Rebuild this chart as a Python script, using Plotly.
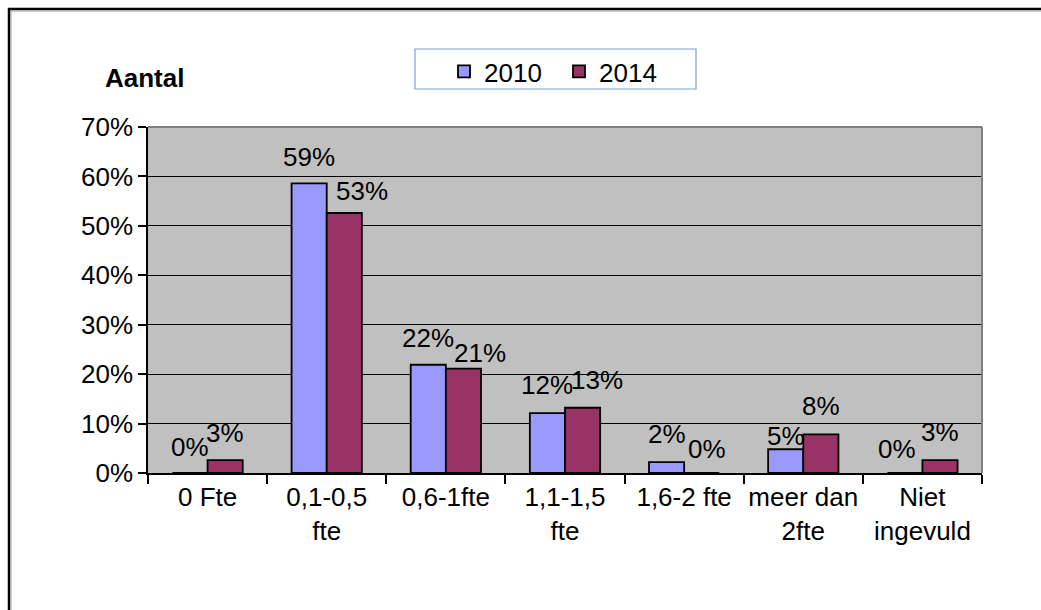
import plotly.graph_objects as go

# ---- data ----
categories = ["0 Fte", "0,1-0,5<br>fte", "0,6-1fte", "1,1-1,5<br>fte",
              "1,6-2 fte", "meer dan<br>2fte", "Niet<br>ingevuld"]
v2010 = [0.0, 0.586, 0.219, 0.121, 0.022, 0.048, 0.0]
v2014 = [0.026, 0.526, 0.211, 0.132, 0.0, 0.078, 0.026]
series_names = ["2010", "2014"]
y_ticks = [0, 0.1, 0.2, 0.3, 0.4, 0.5, 0.6, 0.7]

# ---- style ----
W_TOTAL, H_TOTAL = 1041, 610
L, R, T, B = 148, 59, 127, 137
PW = W_TOTAL - L - R
PH = H_TOTAL - T - B
FONT = "Liberation Sans, Arial, sans-serif"
FS = 26
C2010 = "#9999ff"
C2014 = "#993366"
BARGAP = 0.41
# small label nudges (px) mimicking the original label placement
dx2010 = [0, 0, 0, 0, 0, 0, -8]
dx2014 = [0, 18, 17, 14, 5, 0, 0]
gap2010 = [16, 16, 17, 18, 18, 3, 14]
gap2014 = [17, 12, 6, 18, 14, 18, 18]


def px_x(px):
    return (px - L) / PW


def px_y(py):
    return (H_TOTAL - B - py) / PH


fig = go.Figure()
for name, vals, col in [(series_names[0], v2010, C2010), (series_names[1], v2014, C2014)]:
    fig.add_trace(go.Bar(
        x=categories, y=vals, name=name,
        marker=dict(color=col, line=dict(color="black", width=1.8)),
    ))

half = (1 - BARGAP) / 4
annotations = []
for i in range(len(categories)):
    for vals, sign, dx, gp in [(v2010, -1, dx2010, gap2010), (v2014, 1, dx2014, gap2014)]:
        annotations.append(dict(
            x=i + sign * half, y=vals[i], xref="x", yref="y",
            text=f"{round(vals[i] * 100)}%", showarrow=False,
            xanchor="center", yanchor="bottom",
            xshift=dx[i], yshift=gp[i] - 7,
            font=dict(family=FONT, size=FS, color="black"),
        ))

annotations.append(dict(
    x=px_x(103), y=px_y(95), xref="paper", yref="paper",
    text="<b>Aantal</b>", showarrow=False, xanchor="left", yanchor="bottom",
    font=dict(family=FONT, size=FS, color="black"),
))

shapes = [
    # outer frame (runs off the right and bottom edges)
    dict(type="rect", xref="paper", yref="paper",
         x0=px_x(9), x1=px_x(1060), y0=px_y(630), y1=px_y(9),
         line=dict(color="black", width=2.5)),
    dict(type="rect", xref="paper", yref="paper",
         x0=px_x(11), x1=px_x(1060), y0=px_y(630), y1=px_y(11),
         line=dict(color="#a0a0a0", width=1)),
    # plot area border top/right
    dict(type="line", xref="paper", yref="paper", x0=0, x1=1, y0=1, y1=1,
         line=dict(color="#808080", width=2)),
    dict(type="line", xref="paper", yref="paper", x0=1, x1=1, y0=0, y1=1,
         line=dict(color="#808080", width=2)),
    # legend box
    dict(type="rect", xref="paper", yref="paper",
         x0=px_x(415), x1=px_x(696), y0=px_y(89), y1=px_y(49),
         line=dict(color="#7f9fd6", width=1.2), fillcolor="white"),
]

fig.update_layout(
    width=W_TOTAL, height=H_TOTAL,
    margin=dict(l=L, r=R, t=T, b=B, autoexpand=False),
    paper_bgcolor="white", plot_bgcolor="#c0c0c0",
    barmode="group", bargap=BARGAP, bargroupgap=0,
    font=dict(family=FONT, size=FS, color="black"),
    showlegend=True,
    legend=dict(orientation="h", x=px_x(444), y=px_y(48), xanchor="left", yanchor="top",
                bgcolor="rgba(0,0,0,0)", borderwidth=0,
                font=dict(family=FONT, size=FS, color="black"),
                entrywidth=70, itemwidth=30),
    annotations=annotations,
    shapes=shapes,
    xaxis=dict(
        showgrid=False, showline=True, linecolor="black", linewidth=1.5,
        ticks="outside", tickson="boundaries", ticklen=9, tickcolor="black", tickwidth=1.5,
        tickangle=0,
        tickfont=dict(family=FONT, size=FS, color="black"), fixedrange=True,
    ),
    yaxis=dict(
        range=[0, 0.7], tickvals=y_ticks, tickformat=".0%",
        showgrid=True, gridcolor="black", gridwidth=1.2,
        showline=True, linecolor="black", linewidth=1.5, zeroline=False,
        ticks="outside", ticklen=8, tickcolor="black", tickwidth=1.5,
        tickfont=dict(family=FONT, size=FS, color="black"), fixedrange=True,
    ),
)

fig.write_html("out.html", config={"displayModeBar": False},
               post_script="document.body.style.margin='0px';document.body.style.overflow='hidden';")
